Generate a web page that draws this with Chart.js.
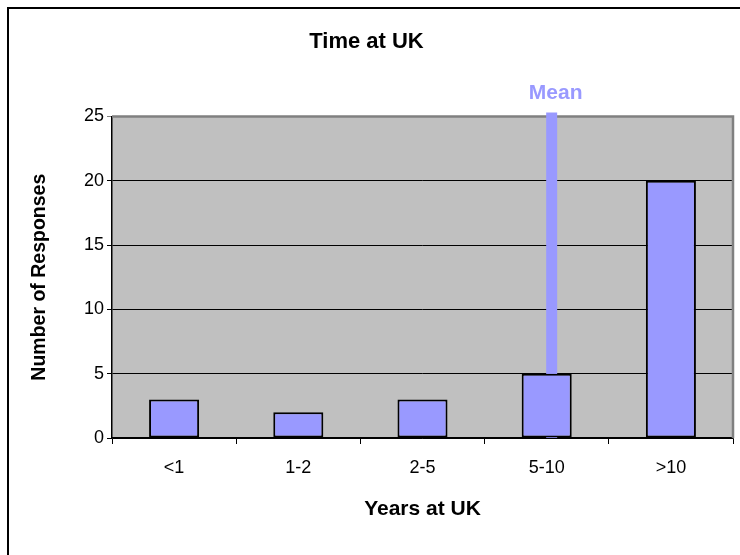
<!DOCTYPE html>
<html>
<head>
<meta charset="utf-8">
<script src="https://cdn.jsdelivr.net/npm/chart.js@4/dist/chart.umd.min.js"></script>
<style>
  html, body { margin: 0; padding: 0; background: #fff; }
  #wrap { width: 740px; height: 555px; position: relative; }
</style>
</head>
<body>
<div id="wrap"><canvas id="c" width="740" height="555"></canvas></div>
<script>
// Survey responses: time spent in the UK
const categories = ['<1', '1-2', '2-5', '5-10', '>10'];
const responses = [3, 2, 3, 5, 20];
const yTicks = [0, 5, 10, 15, 20, 25];
// Mean marker, expressed on the category index axis
const meanPosition = 3.04;
const meanSpan = [0, 25.3];
const meanLabel = 'Mean';

const FONT = '"Liberation Sans", Arial, sans-serif';
const BAR = '#9999FF';

// Gray plot area, its border, the outer frame and the mean label
const plotArea = {
  id: 'plotArea',
  beforeDraw(chart) {
    const { ctx, chartArea: a } = chart;
    ctx.save();
    ctx.fillStyle = '#fff';
    ctx.fillRect(0, 0, chart.width, chart.height);
    ctx.fillStyle = '#C0C0C0';
    ctx.fillRect(a.left, a.top, a.right - a.left, a.bottom - a.top);
    ctx.strokeStyle = '#000';
    ctx.lineWidth = 2;
    ctx.strokeRect(8, 8, 900, 900);
    ctx.restore();
  },
  beforeDatasetsDraw(chart) {
    const { ctx, chartArea: a } = chart;
    ctx.save();
    ctx.strokeStyle = '#808080';
    ctx.lineWidth = 2.5;
    ctx.beginPath();
    ctx.moveTo(a.left, a.top);
    ctx.lineTo(a.right, a.top);
    ctx.lineTo(a.right, a.bottom);
    ctx.stroke();
    ctx.restore();
  },
  afterDatasetsDraw(chart) {
    const meta = chart.getDatasetMeta(1);
    const top = meta.data[1];
    const { ctx } = chart;
    ctx.save();
    ctx.fillStyle = BAR;
    ctx.font = 'bold 21px ' + FONT;
    ctx.textAlign = 'center';
    ctx.textBaseline = 'middle';
    ctx.fillText(meanLabel, top.x + 4, top.y - 19);
    ctx.restore();
  }
};

new Chart(document.getElementById('c'), {
  type: 'bar',
  data: {
    labels: categories,
    datasets: [
      {
        type: 'bar',
        data: responses,
        backgroundColor: BAR,
        borderColor: '#000',
        borderWidth: 2,
        borderSkipped: false,
        grouped: false,
        barPercentage: 0.403,
        categoryPercentage: 1,
        xAxisID: 'x',
        order: 0
      },
      {
        type: 'line',
        data: meanSpan.map(v => ({ x: meanPosition, y: v })),
        borderColor: BAR,
        borderWidth: 11,
        borderCapStyle: 'butt',
        pointRadius: 0,
        fill: false,
        clip: false,
        xAxisID: 'xm',
        order: 1
      }
    ]
  },
  options: {
    responsive: false,
    animation: false,
    layout: { padding: { left: 0, right: 7, top: 0, bottom: 0 } },
    plugins: {
      legend: { display: false },
      tooltip: { enabled: false },
      title: {
        display: true,
        text: 'Time at UK',
        color: '#000',
        font: { family: FONT, size: 22, weight: 'bold' },
        padding: { top: 29, bottom: 61 }
      }
    },
    scales: {
      x: {
        type: 'category',
        offset: true,
        afterFit(s) { s.height = 117; },
        grid: { offset: true, drawOnChartArea: false, drawTicks: true, tickLength: 6, color: '#000', lineWidth: 1 },
        border: { display: true, color: '#000', width: 1.5 },
        ticks: { color: '#000', font: { family: FONT, size: 18 }, padding: 13, maxRotation: 0 },
        title: {
          display: true,
          text: 'Years at UK',
          color: '#000',
          font: { family: FONT, size: 21, weight: 'bold' },
          padding: { top: 0, bottom: 33 }
        }
      },
      xm: {
        type: 'linear',
        display: false,
        offset: false,
        min: -0.5,
        max: 4.5
      },
      y: {
        min: 0,
        max: 25,
        afterFit(s) { s.width = 112; },
        afterBuildTicks(s) { s.ticks = yTicks.map(v => ({ value: v })); },
        grid: {
          color: c => (c.tick && c.tick.value === 25 ? '#808080' : '#000'),
          lineWidth: 1,
          tickLength: 5,
          drawTicks: true
        },
        border: { display: true, color: '#000', width: 1.5 },
        ticks: { color: '#000', font: { family: FONT, size: 18 }, padding: 3 },
        title: {
          display: true,
          text: 'Number of Responses',
          color: '#000',
          font: { family: FONT, size: 19.5, weight: 'bold' },
          padding: { top: 28, bottom: 0 }
        }
      }
    }
  },
  plugins: [plotArea]
});
</script>
</body>
</html>
